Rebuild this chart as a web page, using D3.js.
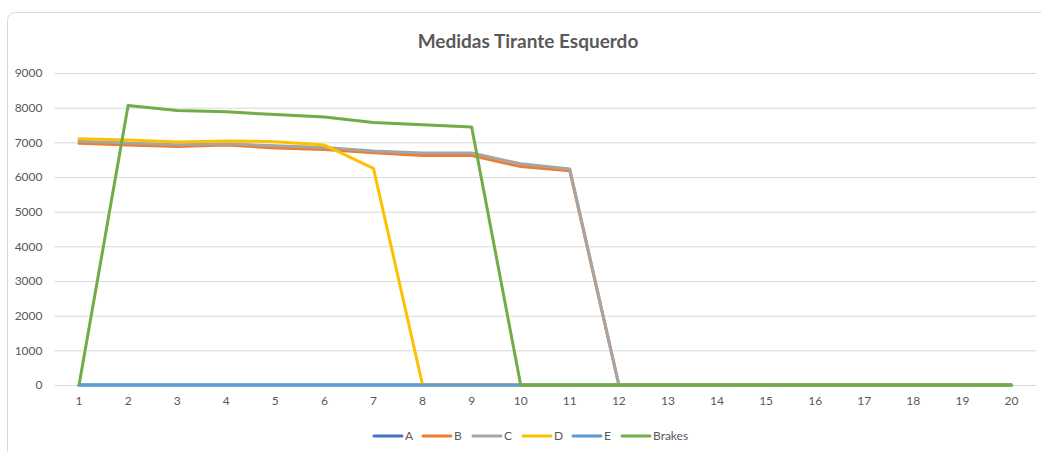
<!DOCTYPE html>
<html>
<head>
<meta charset="utf-8">
<script src="https://cdn.jsdelivr.net/npm/d3@7"></script>
<style>
  body { margin: 0; background: #fff; }
  svg { display: block; font-family: Lato, "Open Sans", sans-serif; }
</style>
</head>
<body>
<svg id="chart"></svg>
<script>
const categories = d3.range(1, 21).map(String);
const yTicks = [0, 1000, 2000, 3000, 4000, 5000, 6000, 7000, 8000, 9000];
const seriesNames = ['A', 'B', 'C', 'D', 'E', 'Brakes'];
const seriesA = [0, 0, 0, 0, 0, 0, 0, 0, 0, 0, 0, 0, 0, 0, 0, 0, 0, 0, 0, 0];
const seriesB = [6970, 6920, 6880, 6920, 6840, 6790, 6700, 6620, 6620, 6300, 6180, 0, 0, 0, 0, 0, 0, 0, 0, 0];
const seriesC = [7030, 6980, 6930, 6960, 6900, 6850, 6750, 6690, 6690, 6380, 6230, 0, 0, 0, 0, 0, 0, 0, 0, 0];
const seriesD = [7100, 7070, 7010, 7040, 7020, 6920, 6250, 0, 0, 0, 0, 0, 0, 0, 0, 0, 0, 0, 0, 0];
const seriesE = [0, 0, 0, 0, 0, 0, 0, 0, 0, 0, 0, 0, 0, 0, 0, 0, 0, 0, 0, 0];
const seriesBrakes = [0, 8060, 7920, 7880, 7800, 7730, 7570, 7510, 7440, 0, 0, 0, 0, 0, 0, 0, 0, 0, 0, 0];

const seriesValues = [seriesA, seriesB, seriesC, seriesD, seriesE, seriesBrakes];
const colors = ['#4472C4', '#ED7D31', '#A5A5A5', '#FFC000', '#5B9BD5', '#70AD47'];

const width = 1041, height = 452;
const margin = {top: 73, right: 5, bottom: 67, left: 54.5};

const svg = d3.select('#chart').attr('width', width).attr('height', height);

svg.append('rect')
  .attr('x', 7.5).attr('y', 12.5)
  .attr('width', width + 20).attr('height', height + 20)
  .attr('rx', 8)
  .attr('fill', '#fff')
  .attr('stroke', '#d9d9d9');

const x = d3.scaleBand()
  .domain(categories)
  .range([margin.left, width - margin.right]);

const y = d3.scaleLinear()
  .domain([0, 9000])
  .range([height - margin.bottom, margin.top]);

svg.append('text')
  .attr('x', 528).attr('y', 48)
  .attr('text-anchor', 'middle')
  .attr('font-size', 19)
  .attr('font-weight', 'bold')
  .attr('fill', '#595959')
  .text('Medidas Tirante Esquerdo');

// y axis with gridlines
svg.append('g')
  .attr('transform', `translate(${margin.left},0)`)
  .call(d3.axisLeft(y).tickValues(yTicks).tickSize(0).tickPadding(12).tickFormat(d => d))
  .call(g => g.select('.domain').remove())
  .call(g => g.selectAll('.tick text').attr('font-size', 12).attr('fill', '#595959').attr('font-family', 'Lato, sans-serif'))
  .call(g => g.selectAll('.tick line')
    .attr('x2', width - margin.right - margin.left)
    .attr('stroke', '#d9d9d9'));

// x axis
svg.append('g')
  .attr('transform', `translate(0,${y(0)})`)
  .call(d3.axisBottom(x).tickSize(0).tickPadding(11))
  .call(g => g.select('.domain').attr('stroke', '#d9d9d9'))
  .call(g => g.selectAll('.tick text').attr('font-size', 12).attr('fill', '#595959').attr('font-family', 'Lato, sans-serif'));

const line = d3.line()
  .x((d, i) => x(categories[i]) + x.bandwidth() / 2)
  .y(d => y(d));

svg.append('g')
  .attr('fill', 'none')
  .attr('stroke-width', 3)
  .attr('stroke-linejoin', 'round')
  .attr('stroke-linecap', 'round')
  .selectAll('path')
  .data(seriesValues)
  .join('path')
  .attr('stroke', (d, i) => colors[i])
  .attr('d', line);

// legend
const legendX = [374, 423, 473, 523, 573, 622];
const legend = svg.append('g')
  .selectAll('g')
  .data(seriesNames)
  .join('g')
  .attr('transform', (d, i) => `translate(${legendX[i]},436)`);

legend.append('line')
  .attr('x1', 0).attr('x2', 28)
  .attr('stroke', (d, i) => colors[i])
  .attr('stroke-width', 3)
  .attr('stroke-linecap', 'round');

legend.append('text')
  .attr('x', 31).attr('dy', '0.35em')
  .attr('font-size', 12)
  .attr('fill', '#595959')
  .text(d => d);
</script>
</body>
</html>
